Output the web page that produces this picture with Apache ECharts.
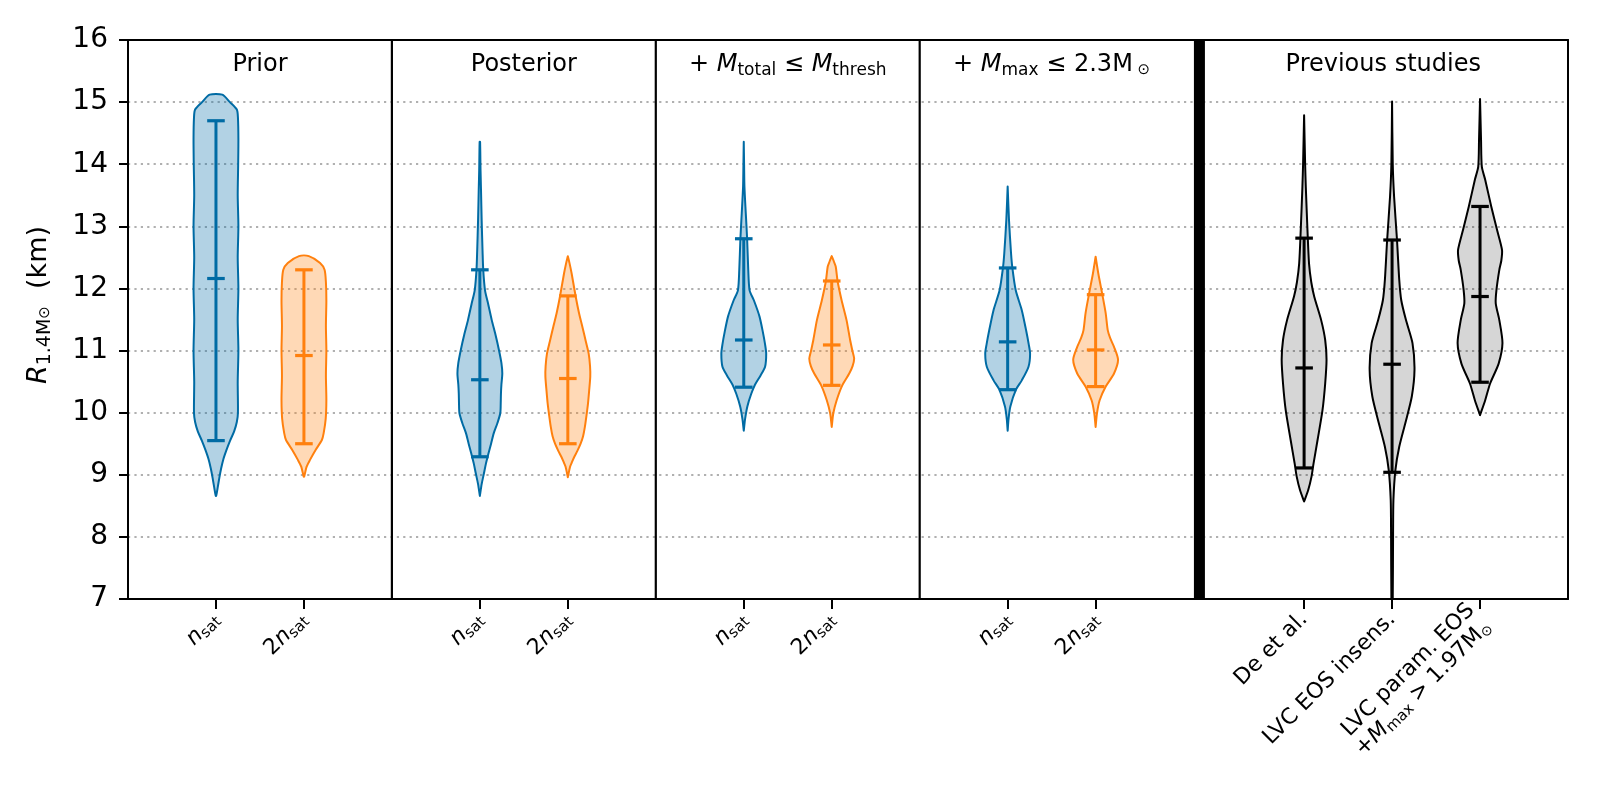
<!DOCTYPE html>
<html>
<head>
<meta charset="utf-8">
<script src="https://cdn.jsdelivr.net/npm/echarts@6.0.0/dist/echarts.min.js"></script>
<style>
  html, body { margin: 0; background: #fff; }
  #chart { width: 1600px; height: 800px; }
</style>
</head>
<body>
<div id="chart"></div>
<script>
// violin x positions (panel units) and their tick labels
const positions = [1, 2, 4, 5, 7, 8, 10, 11, 13.37, 14.37, 15.37];
const tickLabels = [
  '{i|n}{s|sat}', '{n|2}{i|n}{s|sat}',
  '{i|n}{s|sat}', '{n|2}{i|n}{s|sat}',
  '{i|n}{s|sat}', '{n|2}{i|n}{s|sat}',
  '{i|n}{s|sat}', '{n|2}{i|n}{s|sat}',
  'De et al.', 'LVC EOS insens.',
  'LVC param. EOS\n{n|+}{i|M}{s|max}{n| > 1.97M}{o|⊙}'
];
const violinColours = ['blue', 'orange', 'blue', 'orange', 'blue', 'orange', 'blue', 'orange', 'black', 'black', 'black'];

// quantile bars (km)
const lowerCaps = [9.55, 9.50, 9.29, 9.50, 10.41, 10.44, 10.37, 10.42, 9.11, 9.04, 10.49];
const medians   = [12.16, 10.92, 10.53, 10.55, 11.17, 11.09, 11.14, 11.01, 10.72, 10.78, 11.87];
const upperCaps = [14.70, 12.30, 12.30, 11.88, 12.80, 12.12, 12.33, 11.90, 12.81, 12.78, 13.32];

// density profiles: [R (km), relative density], top to bottom
const priorNsat = [[15.12, 0.28], [15.0, 0.62], [14.88, 0.93], [14.75, 0.98], [14.4, 1.0], [14.0, 0.99], [13.5, 0.97],
  [13.0, 1.0], [12.5, 0.97], [12.0, 1.0], [11.5, 0.97], [11.0, 1.0], [10.5, 0.97], [10.0, 0.98], [9.85, 0.93],
  [9.7, 0.81], [9.55, 0.63], [9.4, 0.47], [9.25, 0.33], [9.1, 0.23], [8.95, 0.15], [8.8, 0.08], [8.66, 0.01]];
const prior2Nsat = [[12.52, 0.22], [12.41, 0.72], [12.30, 0.92], [12.1, 0.98], [11.8, 1.0], [11.4, 0.98], [11.0, 1.0],
  [10.6, 0.98], [10.2, 1.0], [9.9, 0.97], [9.67, 0.88], [9.56, 0.8], [9.40, 0.52], [9.24, 0.27], [9.13, 0.12], [8.97, 0.01]];
const postNsat = [[14.36, 0.01], [13.9, 0.03], [13.6, 0.05], [13.1, 0.08], [12.6, 0.12], [12.3, 0.15], [11.97, 0.23],
  [11.75, 0.37], [11.49, 0.53], [11.25, 0.7], [11.01, 0.85], [10.8, 0.96], [10.63, 1.0], [10.45, 0.96], [10.31, 0.94],
  [10.15, 0.93], [9.99, 0.91], [9.83, 0.78], [9.67, 0.62], [9.5, 0.5], [9.34, 0.38], [9.18, 0.27], [9.02, 0.18],
  [8.85, 0.08], [8.66, 0.0]];
const post2Nsat = [[12.52, 0.0], [12.4, 0.08], [12.24, 0.17], [11.87, 0.35], [11.6, 0.5], [11.38, 0.65], [11.15, 0.8],
  [10.95, 0.93], [10.75, 0.99], [10.58, 1.0], [10.35, 0.95], [10.15, 0.9], [9.95, 0.83], [9.77, 0.76], [9.62, 0.68],
  [9.50, 0.57], [9.38, 0.42], [9.29, 0.29], [9.2, 0.18], [9.13, 0.1], [8.96, 0.0]];
const mtotNsat = [[14.36, 0.0], [14.0, 0.015], [13.64, 0.03], [13.21, 0.09], [12.80, 0.15], [12.30, 0.2], [11.97, 0.26],
  [11.81, 0.45], [11.55, 0.7], [11.30, 0.85], [11.1, 0.95], [10.95, 1.0], [10.74, 0.95], [10.60, 0.75], [10.45, 0.5],
  [10.30, 0.33], [10.10, 0.16], [9.90, 0.06], [9.71, 0.0]];
const mtot2Nsat = [[12.52, 0.0], [12.43, 0.1], [12.35, 0.18], [12.12, 0.26], [11.81, 0.44], [11.49, 0.66], [11.17, 0.82],
  [11.0, 0.92], [10.87, 1.0], [10.75, 0.93], [10.63, 0.78], [10.44, 0.47], [10.20, 0.22], [9.99, 0.07], [9.77, 0.0]];
const mmaxNsat = [[13.64, 0.0], [13.10, 0.06], [12.57, 0.15], [12.33, 0.21], [11.97, 0.36], [11.65, 0.63], [11.33, 0.82],
  [11.1, 0.94], [10.95, 1.0], [10.74, 0.93], [10.52, 0.63], [10.37, 0.37], [10.10, 0.12], [9.90, 0.04], [9.71, 0.0]];
const mmax2Nsat = [[12.51, 0.0], [12.24, 0.12], [11.90, 0.3], [11.60, 0.45], [11.33, 0.54], [11.2, 0.65], [11.06, 0.82],
  [10.85, 1.0], [10.63, 0.82], [10.42, 0.45], [10.20, 0.18], [9.99, 0.06], [9.77, 0.0]];
const deEtAl = [[14.79, 0.0], [14.01, 0.045], [13.64, 0.075], [12.94, 0.15], [12.40, 0.22], [12.1, 0.32], [11.87, 0.45],
  [11.49, 0.76], [11.17, 0.94], [10.85, 1.0], [10.47, 0.94], [10.04, 0.82], [9.56, 0.6], [9.18, 0.42], [8.97, 0.33],
  [8.75, 0.18], [8.57, 0.0]];
const lvcInsens = [[15.01, 0.0], [14.01, 0.03], [13.48, 0.09], [12.78, 0.22], [12.14, 0.32], [11.81, 0.41], [11.49, 0.62],
  [11.12, 0.91], [10.69, 1.0], [10.26, 0.88], [9.83, 0.59], [9.45, 0.32], [9.08, 0.15], [8.59, 0.06], [8.06, 0.045],
  [7.0, 0.03], [6.8, 0.0]];
const lvcParam = [[15.05, 0.0], [14.39, 0.045], [13.96, 0.08], [13.75, 0.23], [13.32, 0.5], [12.94, 0.76], [12.62, 0.98],
  [12.45, 0.95], [12.30, 0.86], [11.97, 0.73], [11.76, 0.7], [11.49, 0.86], [11.12, 1.0], [10.79, 0.83], [10.47, 0.45],
  [10.20, 0.23], [9.96, 0.0]];
const profiles = [priorNsat, prior2Nsat, postNsat, post2Nsat, mtotNsat, mtot2Nsat, mmaxNsat, mmax2Nsat, deEtAl, lvcInsens, lvcParam];

// panel layout
const panelSeparators = [3, 6, 9];
const studiesSeparator = 12.18;
const headerX = [1.5, 4.5, 7.5, 10.5, 14.27];
const headerTexts = [
  '{n|Prior}', '{n|Posterior}',
  '{n|+ }{i|M}{s|total}{n| ≤ }{i|M}{s|thresh}',
  '{n|+ }{i|M}{s|max}{n| ≤ 2.3M}{o| ⊙}',
  '{n|Previous studies}'
];

const F = 'DejaVu Sans';
const HALF = 0.255;
const CAP = 0.1;
const palette = {
  blue:   { line: '#006BA4', fill: 'rgba(0,107,164,0.3)' },
  orange: { line: '#FF800E', fill: 'rgba(255,128,14,0.3)' },
  black:  { line: '#000000', fill: 'rgba(0,0,0,0.16)' }
};

function tok(size, extra) {
  return Object.assign({ fontSize: size, fontFamily: F, fill: '#000', color: '#000', verticalAlign: 'middle' }, extra || {});
}

function renderViolin(params, api) {
  const i = params.dataIndex;
  const x = api.value(0);
  const prof = profiles[i];
  const col = palette[violinColours[i]];
  const right = prof.map(p => api.coord([x + p[1] * HALF, p[0]]));
  const left = prof.slice().reverse().map(p => api.coord([x - p[1] * HALF, p[0]]));
  const children = [{
    type: 'polygon',
    shape: { points: right.concat(left), smooth: 0.25 },
    style: { fill: col.fill, stroke: col.line, lineWidth: 2, lineJoin: 'round' }
  }];
  const lo = api.coord([x, lowerCaps[i]]);
  const hi = api.coord([x, upperCaps[i]]);
  children.push({ type: 'line', shape: { x1: lo[0], y1: lo[1], x2: hi[0], y2: hi[1] }, style: { stroke: col.line, lineWidth: 3 } });
  [lowerCaps[i], medians[i], upperCaps[i]].forEach(v => {
    const a = api.coord([x - CAP, v]);
    const b = api.coord([x + CAP, v]);
    children.push({ type: 'line', shape: { x1: a[0], y1: a[1], x2: b[0], y2: b[1] }, style: { stroke: col.line, lineWidth: 3.2 } });
  });
  return { type: 'group', children };
}

function renderSeparator(params, api) {
  const x = api.value(0);
  const a = api.coord([x, 16]);
  const b = api.coord([x, 7]);
  const w = x === studiesSeparator ? 11 : 2.2;
  return { type: 'line', shape: { x1: a[0], y1: a[1], x2: b[0], y2: b[1] }, style: { stroke: '#000', lineWidth: w } };
}

function renderHeader(params, api) {
  const p = api.coord([api.value(0), api.value(1)]);
  return {
    type: 'text', x: p[0], y: p[1],
    style: {
      text: headerTexts[params.dataIndex], align: 'center', verticalAlign: 'middle',
      fontSize: 24, fontFamily: F, fill: '#000',
      rich: { n: tok(24), i: tok(24, { fontStyle: 'italic' }), s: tok(17, { padding: [11, 0, 0, 0] }), o: tok(15, { padding: [11, 0, 0, 0] }) }
    }
  };
}

const chart = echarts.init(document.getElementById('chart'), null, { renderer: 'canvas' });

const axisBlack = { show: true, onZero: false, lineStyle: { color: '#000', width: 2 } };

chart.setOption({
  animation: false,
  backgroundColor: '#fff',
  grid: { left: 128, right: 32, top: 40, bottom: 201 },
  graphic: [{
    type: 'text', x: 39, y: 305, rotation: Math.PI / 2,
    style: {
      text: '{i|R}{s|1.4M}{o|⊙}{n|  (km)}', align: 'center', verticalAlign: 'middle',
      fontSize: 27, fontFamily: F, fill: '#000',
      rich: { n: tok(27), i: tok(27, { fontStyle: 'italic' }), s: tok(19, { padding: [13, 0, 0, 0] }), o: tok(15, { padding: [13, 0, 0, 0] }) }
    }
  }],
  xAxis: [{
    type: 'value', min: 0, max: 16.37, position: 'bottom',
    axisLine: axisBlack,
    axisTick: { show: true, customValues: positions, length: 10, lineStyle: { color: '#000', width: 2 } },
    axisLabel: {
      customValues: positions, rotate: 45, margin: 17, color: '#000', fontSize: 22, fontFamily: F,
      formatter: v => {
        const k = positions.findIndex(p => Math.abs(p - v) < 1e-6);
        return k < 0 ? '' : tickLabels[k];
      },
      rich: {
        n: { fontSize: 22, fontFamily: F, color: '#000', verticalAlign: 'middle' },
        i: { fontSize: 22, fontFamily: F, color: '#000', fontStyle: 'italic', verticalAlign: 'middle' },
        s: { fontSize: 15, fontFamily: F, color: '#000', padding: [10, 0, 0, 0], verticalAlign: 'middle' },
        o: { fontSize: 14, fontFamily: F, color: '#000', padding: [10, 0, 0, 0], verticalAlign: 'middle' }
      }
    },
    splitLine: { show: false }
  }, {
    type: 'value', min: 0, max: 16.37, position: 'top',
    axisLine: axisBlack, axisTick: { show: false }, axisLabel: { show: false }, splitLine: { show: false }
  }],
  yAxis: [{
    type: 'value', min: 7, max: 16, interval: 1, position: 'left',
    axisLine: axisBlack,
    axisTick: { show: true, length: 9, lineStyle: { color: '#000', width: 2 } },
    axisLabel: { fontSize: 28, fontFamily: F, color: '#000', margin: 20 },
    splitLine: {
      show: true, showMinLine: false, showMaxLine: false,
      lineStyle: { color: '#b0b0b0', width: 2, type: [2.2, 4.2] }
    }
  }, {
    type: 'value', min: 7, max: 16, position: 'right',
    axisLine: axisBlack, axisTick: { show: false }, axisLabel: { show: false }, splitLine: { show: false }
  }],
  series: [{
    type: 'custom', name: 'separators', xAxisIndex: 0, yAxisIndex: 0, silent: true, z: 3,
    renderItem: renderSeparator,
    data: panelSeparators.concat([studiesSeparator]).map(x => [x, 16])
  }, {
    type: 'custom', name: 'violins', xAxisIndex: 0, yAxisIndex: 0, clip: true, z: 4,
    renderItem: renderViolin,
    encode: { x: 0, y: 1 },
    data: positions.map((p, i) => [p, medians[i]])
  }, {
    type: 'custom', name: 'headers', xAxisIndex: 0, yAxisIndex: 0, silent: true, z: 5,
    renderItem: renderHeader,
    data: headerX.map(x => [x, 15.6])
  }]
});
</script>
</body>
</html>
